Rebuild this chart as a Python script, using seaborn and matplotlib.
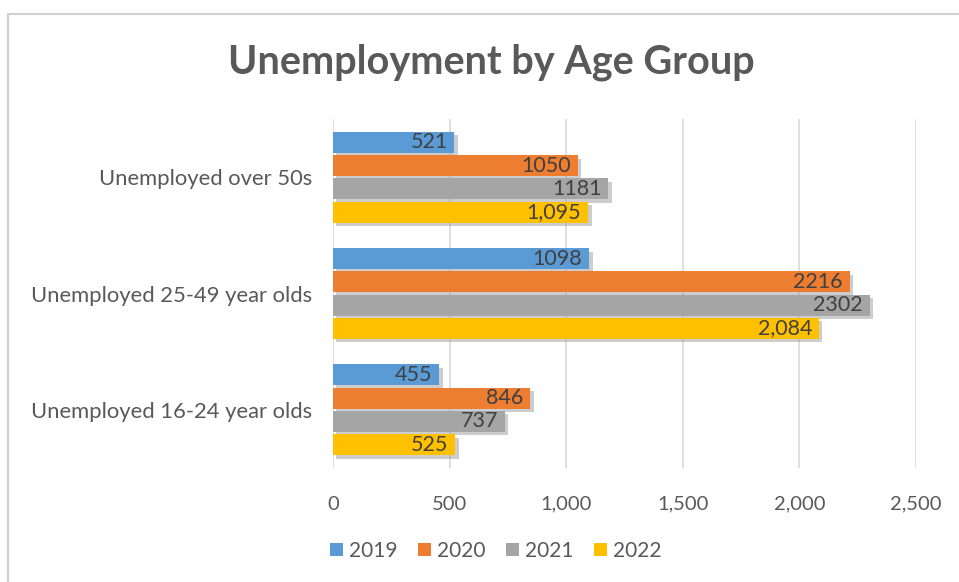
import matplotlib
matplotlib.use("Agg")
import matplotlib.pyplot as plt
import matplotlib.patheffects as pe
from matplotlib.patches import Rectangle
import seaborn as sns
import pandas as pd

categories = ["Unemployed over 50s", "Unemployed 25-49 year olds", "Unemployed 16-24 year olds"]
years = ["2019", "2020", "2021", "2022"]
v2019 = [521, 1098, 455]
v2020 = [1050, 2216, 846]
v2021 = [1181, 2302, 737]
v2022 = [1095, 2084, 525]
labels2019 = ["521", "1098", "455"]
labels2020 = ["1050", "2216", "846"]
labels2021 = ["1181", "2302", "737"]
labels2022 = ["1,095", "2,084", "525"]
xticks = [0, 500, 1000, 1500, 2000, 2500]
xticklabels = ["0", "500", "1,000", "1,500", "2,000", "2,500"]
colors = ["#5B9BD5", "#ED7D31", "#A5A5A5", "#FFC000"]

series = [v2019, v2020, v2021, v2022]
labels_all = [labels2019, labels2020, labels2021, labels2022]
rows = []
for y, vals in zip(years, series):
    for c, v in zip(categories, vals):
        rows.append({"category": c, "year": y, "value": v})
df = pd.DataFrame(rows)

sns.set_theme(style="white")
plt.rcParams["font.family"] = ["Lato", "DejaVu Sans"]

fig = plt.figure(figsize=(9.59, 5.82), dpi=100)
fig.patch.set_facecolor("white")
# chart frame
fig.add_artist(Rectangle((8 / 959, -0.05), 1.2, 1 - 14 / 582 + 0.05, transform=fig.transFigure,
                         fill=False, edgecolor="#D0D0D0", linewidth=1.5))

ax = fig.add_axes([333 / 959, 1 - 468 / 582, (916 - 333) / 959, (468 - 119) / 582])
sns.barplot(data=df, y="category", x="value", hue="year", order=categories, hue_order=years,
            palette=colors, orient="h", width=0.8, gap=0.1, ax=ax, legend=False,
            saturation=1, edgecolor="none")

shadow = [pe.SimplePatchShadow(offset=(2.5, -2.5), shadow_rgbFace="#909090", alpha=0.45), pe.Normal()]
for cont, labs in zip(ax.containers, labels_all):
    for patch, lab in zip(cont.patches, labs):
        patch.set_path_effects(shadow)
        patch.set_zorder(3)
        ax.annotate(lab, (patch.get_width(), patch.get_y() + patch.get_height() / 2),
                    xytext=(-5, 0), textcoords="offset points", ha="right", va="center",
                    fontsize=15.5, color="#404040", zorder=5)

ax.set_xlim(0, 2500)
ax.set_ylim(2.5, -0.5)
ax.set_xticks(xticks)
ax.set_xticklabels(xticklabels)
ax.grid(axis="x", color="#D9D9D9", linewidth=1.2, zorder=0)
ax.set_axisbelow(True)
for s in ax.spines.values():
    s.set_visible(False)
ax.set_xlabel("")
ax.set_ylabel("")
ax.tick_params(axis="x", length=0, pad=20, labelsize=14.5, labelcolor="#595959")
ax.tick_params(axis="y", length=0, pad=15, labelsize=15.8, labelcolor="#595959")

fig.text(0.512, 1 - 62 / 582, "Unemployment by Age Group", ha="center", va="center",
         fontsize=28.5, fontweight="bold", color="#595959")

handles = [Rectangle((0, 0), 1, 1, facecolor=c, edgecolor="none") for c in colors]
fig.legend(handles, years, loc="center", bbox_to_anchor=(0.517, 1 - 551 / 582), ncol=4,
           frameon=False, fontsize=15, labelcolor="#595959", handlelength=0.6, handleheight=0.6,
           handletextpad=0.3, columnspacing=1.0)

fig.savefig("out.png", dpi=100, facecolor="white")
